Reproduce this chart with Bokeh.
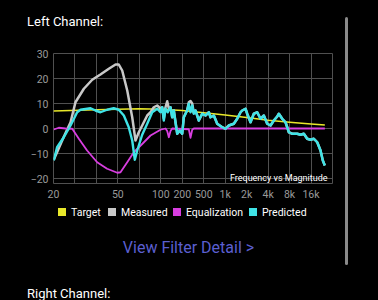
import numpy as np
from bokeh.plotting import figure
from bokeh.models import Label, FixedTicker, ColumnDataSource, Div
from bokeh.layouts import row, column
from bokeh.embed import file_html
from bokeh.resources import INLINE

# ---- axis definition (the app's non-uniform frequency axis) ----
grid_freqs = [20, 30, 40, 50, 70, 100, 200, 500, 1000, 2000, 4000, 8000, 16000, 32000]
tick_freqs = [20, 50, 100, 200, 500, 1000, 2000, 4000, 8000, 16000]
tick_labels = ["20", "50", "100", "200", "500", "1k", "2k", "4k", "8k", "16k"]
y_ticks = [-20, -10, 0, 10, 20, 30]

# ---- data (Hz, dB) ----
target_f = [20, 40, 70, 100, 200, 500, 1000, 2000, 4000, 8000, 16000, 24980]
target_db = [7.0, 7.5, 7.9, 7.7, 7.2, 6.3, 5.4, 4.4, 3.3, 2.5, 1.8, 1.4]

measured_f = [20.1, 24.3, 27.6, 30.2, 33.8, 37.8, 41.7, 45.5, 48.8, 50.7, 53.5, 57.9,
              62.6, 65.9, 69.4, 75.4, 79.8, 84.3, 89.0, 94.2, 99.5, 104.6, 110.2,
              116.4, 123, 129.5, 136.8, 144.5, 152.2, 160.8, 169.9, 184.7, 199.6,
              213.6, 246.9, 264.5, 284.3, 305.7, 327.4, 352, 405.3, 468.5, 529.6,
              589.4, 622.6, 692.7, 772.9, 908.3, 1010, 1124, 1321, 1474, 1641, 1733,
              1928, 2036, 2266, 2521, 2813, 3130, 3482, 3885, 4323, 4810, 5367, 5656,
              6307, 7017, 7416, 7807, 8711, 10240, 11390, 12680, 14140, 15740, 17510,
              19540, 21740, 23410, 24980]
measured_db = [-12.5, -3.3, 2.5, 10.5, 15.9, 19.5, 21.6, 23.9, 25.6, 25.6, 23.2, 15.2,
               4.5, -4.8, -1.5, 2.5, 5.2, 6.5, 8.5, 9.2, 8.0, 8.5, 4.0,
               8.5, 10.9, 8.0, 8.5, 4.5, 7.2, 2.5, -2.1, -0.8, -2.1,
               4.5, 7.4, 10.5, 11.0, 10.0, 6.2, 7.2, 3.2, 5.9, 5.2,
               6.5, 4.5, 5.2, 1.9, 0.5, -0.1, 1.2, 1.9, 3.9, 6.5, 7.2,
               7.9, 5.9, 2.5, 5.9, 6.5, 3.9, 5.2, 1.9, 1.2, 3.2, 4.8, 5.9,
               3.9, 2.5, 0.5, -1.5, -2.1, -2.1, -2.5, -2.1, -4.1, -4.5, -4.1,
               -5.5, -8.8, -12.8, -14.8]

eq_f = [20.1, 22.1, 25.1, 28.5, 31.6, 35.3, 40.3, 44.7, 49.7, 52.1, 57.9, 64.2, 73.4,
        84.3, 99.5, 116.4, 123, 129.5, 136.8, 144.5, 264.5, 284.3, 305.7, 327.4, 24980]
eq_db = [-0.4, 0.3, 0.0, -0.1, -4.1, -8.8, -13.5, -16.1, -17.7, -17.5, -13.5, -9.5, -6.2,
         -2.8, -0.5, 0.0, -1.0, -3.5, -1.0, 0.0, -0.3, -3.7, -0.5, 0.0, 0.0]

pred_f = [20.1, 21.4, 24.3, 27.6, 30.9, 32.3, 37.0, 39.5, 41.7, 44.7, 47.9, 50.7, 54.9,
          59.3, 62.6, 65.2, 67.7, 73.4, 79.8, 86.7, 94.2, 99.5, 104.6, 110.2, 116.4,
          125.4, 136.8, 144.5, 152.2, 160.8, 169.9, 184.7, 199.6, 213.6, 246.9, 264.5,
          284.3, 305.7, 327.4, 352, 405.3, 468.5, 529.6, 589.4, 622.6, 692.7, 772.9,
          908.3, 1010, 1124, 1321, 1474, 1641, 1733, 1928, 2036, 2266, 2521, 2813, 3130,
          3482, 3885, 4323, 4810, 5367, 5656, 6307, 7017, 7416, 7807, 8711, 10240,
          11390, 12680, 14140, 15740, 17510, 19540, 21740, 23410, 24980]
pred_db = [-12.8, -7.5, -3.5, 1.2, 6.5, 7.5, 8.1, 7.2, 6.5, 7.5, 8.1, 7.5, 5.2,
           0.5, -4.8, -12.5, -8.8, -2.5, 1.9, 6.5, 7.9, 6.5, 8.5, 3.2, 7.9,
           6.5, 8.5, 4.5, 7.2, 2.5, -2.1, -0.8, -2.1, 4.5, 7.2, 9.9,
           6.5, 9.2, 5.9, 7.2, 3.2, 5.9, 5.2, 6.5, 4.5, 5.2, 1.9,
           0.5, -0.1, 1.2, 1.9, 3.9, 6.5, 7.2, 7.9, 5.9, 2.5, 5.9, 6.5, 3.9,
           5.2, 1.9, 1.2, 3.2, 4.8, 5.9, 3.9, 2.5, 0.5, -1.5, -2.1, -2.1,
           -2.5, -2.1, -4.1, -4.5, -4.1, -5.5, -8.8, -12.8, -14.8]

series_names = ["Target", "Measured", "Equalization", "Predicted"]
series_f = [target_f, measured_f, eq_f, pred_f]
series_db = [target_db, measured_db, eq_db, pred_db]
colors = ["#e8e82a", "#c8c8c8", "#d83ee0", "#3fe3e6"]
widths = [1.6, 2.5, 1.8, 2.4]

grid_idx = np.arange(len(grid_freqs))
log_grid = np.log10(grid_freqs)


def fpos(freqs):
    return np.interp(np.log10(freqs), log_grid, grid_idx)


CW = 345           # width of the content column
TOP_H = 40         # "Left Channel:" strip
FIG_H = 165        # chart (frame 130 px + borders)
LEG_H = 20
VIEW_H = 40
RIGHT_H = 35

p = figure(width=CW, height=FIG_H, output_backend="svg", toolbar_location=None,
           x_range=(0, len(grid_freqs) - 1), y_range=(-22, 30),
           min_border_left=53, min_border_right=13,
           min_border_top=13, min_border_bottom=22,
           background_fill_color="black", border_fill_color="black",
           outline_line_color="#505050", margin=0)

p.xaxis.ticker = FixedTicker(ticks=list(fpos(tick_freqs)))
p.xaxis.major_label_overrides = {float(v): t for v, t in zip(fpos(tick_freqs), tick_labels)}
p.yaxis.ticker = FixedTicker(ticks=y_ticks)
p.xgrid.ticker = FixedTicker(ticks=list(grid_idx))
for ax in (p.xaxis, p.yaxis):
    ax.axis_line_color = None
    ax.major_tick_line_color = None
    ax.minor_tick_line_color = None
    ax.major_tick_out = 0
    ax.major_tick_in = 0
    ax.minor_tick_out = 0
    ax.minor_tick_in = 0
    ax.major_label_text_color = "#9a9a9a"
    ax.major_label_text_font = "Roboto"
    ax.major_label_text_font_size = "10.5px"
p.xaxis.major_label_standoff = 4
p.yaxis.major_label_standoff = 5
for g in (p.xgrid, p.ygrid):
    g.grid_line_color = "#505050"
    g.grid_line_width = 1

for f, db, color, w in zip(series_f, series_db, colors, widths):
    src = ColumnDataSource(dict(x=fpos(f), y=db))
    p.line("x", "y", source=src, line_color=color, line_width=w, line_join="round")

p.add_layout(Label(x=327, y=137, x_units="canvas", y_units="canvas",
                   text="Frequency vs Magnitude", text_font="Roboto",
                   text_font_size="9px", text_color="white", text_align="right",
                   text_baseline="alphabetic"))

BASE = {"font-family": "Roboto, sans-serif", "color": "white",
        "background-color": "black", "overflow": "visible"}


def strip(html, h, extra=None):
    st = dict(BASE)
    if extra:
        st.update(extra)
    return Div(text=html, width=CW, height=h, margin=0, styles=st)


title_div = strip('<div style="position:absolute;left:27px;top:14px;'
                  'font-size:13px;line-height:16px;white-space:nowrap">Left Channel:</div>',
                  TOP_H, {"position": "relative"})

leg_sq_x = [58, 108, 173, 249]
leg_html = ""
for name, color, sx in zip(series_names, colors, leg_sq_x):
    leg_html += (f'<div style="position:absolute;left:{sx}px;top:3px;width:8px;'
                 f'height:8px;background:{color}"></div>'
                 f'<div style="position:absolute;left:{sx + 13}px;top:1px;'
                 f'font-size:10.5px;line-height:13px;white-space:nowrap">{name}</div>')
legend_div = strip(leg_html, LEG_H, {"position": "relative"})

view_div = strip('<div style="position:absolute;left:16px;width:345px;top:13px;'
                 'text-align:center;font-size:16px;line-height:20px;color:#5b5fd0;'
                 'white-space:nowrap">View Filter Detail &gt;</div>',
                 VIEW_H, {"position": "relative"})

right_div = strip('<div style="position:absolute;left:27px;top:21px;'
                  'font-size:13px;line-height:16px;white-space:nowrap">Right Channel:</div>',
                  RIGHT_H, {"position": "relative"})

content = column(title_div, p, legend_div, view_div, right_div, spacing=0,
                 margin=0, styles={"background-color": "black"})

scrollbar = Div(text="", width=3, height=248, margin=(17, 0, 0, 0),
                styles={"background-color": "#8a8a8a", "border-radius": "2px"})

layout = row(content, scrollbar, spacing=0, margin=0,
             styles={"background-color": "black", "width": "378px",
                     "height": "300px"})

open("out.html", "w").write(file_html(layout, INLINE))
